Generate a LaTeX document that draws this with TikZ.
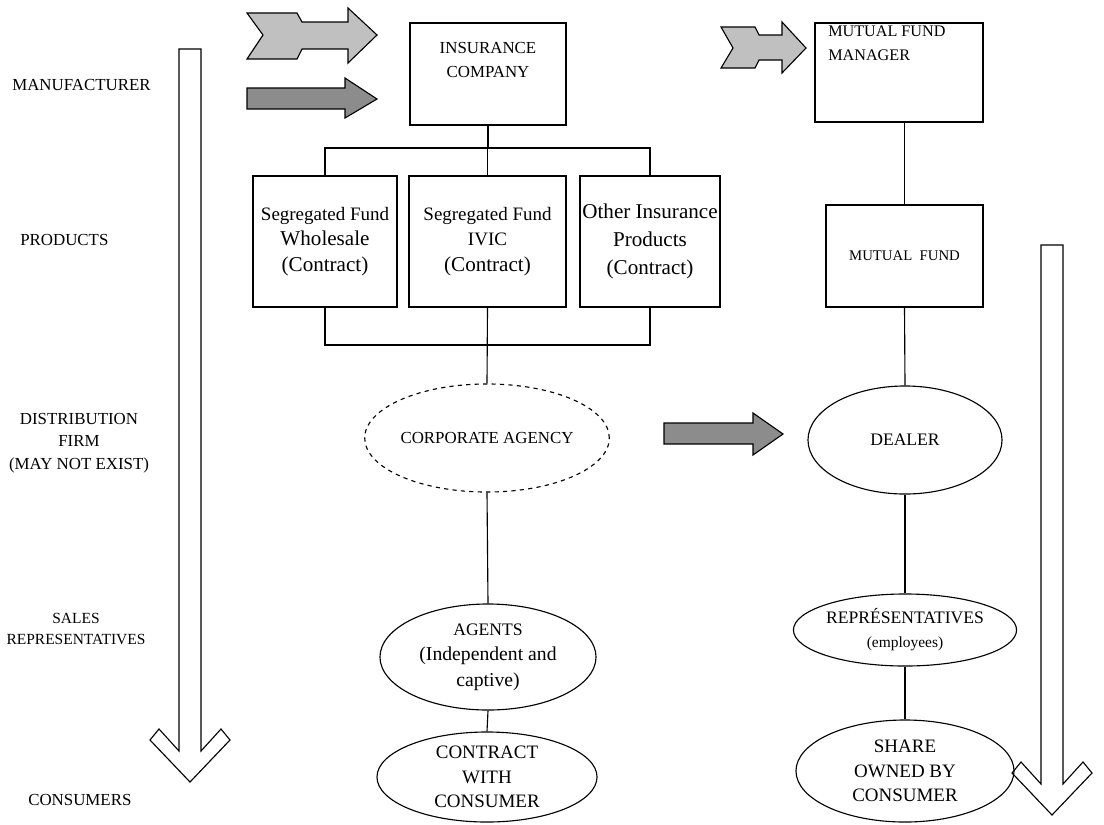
\documentclass[tikz,border=0pt]{standalone}
\usepackage{fontspec}
\setmainfont{Liberation Serif}
\usetikzlibrary{shapes.geometric,positioning}
\definecolor{lightarr}{HTML}{C0C0C0}
\definecolor{darkarr}{HTML}{8C8C8C}
\newcommand{\fsz}[2]{\fontsize{#1}{#2}\selectfont}
\tikzset{
  orgbox/.style  = {rectangle, draw=black, line width=0.8pt,
                    inner sep=0pt, align=center},
  orgoval/.style = {ellipse, draw=black, line width=0.8pt,
                    inner sep=0pt, align=center},
  lvltext/.style = {font=\fsz{12}{16}, align=center, inner sep=0pt},
  link/.style    = {draw=black, line width=0.8pt},
  blockarr/.style= {draw=black, line width=0.8pt, line join=miter,
                    fill=#1},
  blockarr/.default = white,
}

\begin{document}
\begin{tikzpicture}[x=0.025cm, y=-0.025cm]
  \useasboundingbox (0,0) rectangle (1104,824);

  %% ---- Level labels ----
  \node[lvltext, anchor=west] (lmanu)  at (12,85)  {MANUFACTURER};
  \node[lvltext, anchor=west] (lprod)  at (20,240) {PRODUCTS};
  \node[lvltext]              (ldist)  at (79,443) {DISTRIBUTION\\FIRM\\(MAY NOT EXIST)};
  \node[lvltext, font=\fsz{11}{15}]
                              (lsales) at (76,629) {SALES\\REPRESENTATIVES};
  \node[lvltext, anchor=west] (lcons)  at (28,800) {CONSUMERS};

  %% ---- Big down arrows ----
  \draw[blockarr] (179,49) -- (201,49) -- (201,751) -- (221,729)
        -- (230,740) -- (190,782) -- (150,740) -- (159,729)
        -- (179,751) -- cycle;
  \draw[blockarr] (1041,245) -- (1063,245) -- (1063,784) -- (1083,762)
        -- (1092,773) -- (1052,815) -- (1012,773) -- (1021,762)
        -- (1041,784) -- cycle;

  %% ---- Block arrows ----
  \draw[blockarr=lightarr] (247,13) -- (297,13) -- (302,22) -- (348,22)
        -- (348,8) -- (377,35) -- (348,63) -- (348,49) -- (302,49)
        -- (297,59) -- (247,59) -- (263,35) -- cycle;
  \draw[blockarr=darkarr] (247,88) -- (345,88) -- (345,78) -- (377,99)
        -- (345,118) -- (345,109) -- (247,109) -- cycle;
  \draw[blockarr=lightarr] (721,27) -- (755,27) -- (759,35) -- (782,35)
        -- (782,22) -- (806,48) -- (782,73) -- (782,60) -- (759,60)
        -- (755,68) -- (721,68) -- (733,48) -- cycle;
  \draw[blockarr=darkarr] (664,423) -- (753,423) -- (753,413) -- (783,434)
        -- (753,455) -- (753,444) -- (664,444) -- cycle;

  %% ---- Insurance side ----
  \node[orgbox, minimum width=3.9cm, minimum height=2.55cm]
        (ins) at (488,74) {};
  \node[font=\fsz{12}{17}, align=center, inner sep=0pt]
        (instxt) at (488,60) {INSURANCE\\COMPANY};
  \node[orgbox, minimum width=3.6cm, minimum height=3.275cm,
        font=\fsz{15}{18}]
        (sf1) at (325,241.5) {\fsz{13.5}{18}Segregated Fund\\Wholesale\\(Contract)};
  \node[orgbox, minimum width=3.925cm, minimum height=3.275cm,
        font=\fsz{13.5}{18}]
        (sf2) at (487.5,241.5) {Segregated Fund\\IVIC\\\fsz{15}{18}(Contract)};
  \node[orgbox, minimum width=3.5cm, minimum height=3.275cm,
        font=\fsz{15}{20}]
        (oth) at (650,241.5) {Other Insurance\\Products\\(Contract)};
  \node[orgoval, dashed, minimum width=4.75cm, minimum height=2.7cm,
        font=\fsz{12}{16}] (corp) at (487,438) {CORPORATE AGENCY};
  \node[orgoval, minimum width=5.4cm, minimum height=2.65cm,
        font=\fsz{14}{18}]
        (agents) at (488,657) {\fsz{12.5}{18}AGENTS\\(Independent and\\captive)};
  \node[orgoval, minimum width=5.5cm, minimum height=2.25cm,
        font=\fsz{13.5}{17.5}] (contract) at (487,777) {CONTRACT\\WITH\\CONSUMER};

  %% ---- Mutual fund side ----
  \node[orgbox, minimum width=4.2cm, minimum height=2.475cm]
        (mgr) at (899,72.5) {};
  \node[font=\fsz{11.5}{17}, align=left, inner sep=0pt, anchor=north west]
        (mgrtxt) at (828,26) {MUTUAL FUND\\MANAGER};
  \node[orgbox, minimum width=3.925cm, minimum height=2.55cm,
        font=\fsz{10.5}{14}] (mf) at (904.5,256) {MUTUAL~~FUND};
  \node[orgoval, minimum width=4.85cm, minimum height=2.7cm,
        font=\fsz{12.5}{16}] (dealer) at (905,440) {DEALER};
  \node[orgoval, minimum width=5.4cm, minimum height=1.8cm,
        font=\fsz{11}{17}]
        (reps) at (905,630) {\fsz{12.5}{17}REPRÉSENTATIVES\\(employees)};
  \node[orgoval, minimum width=5.45cm, minimum height=2.55cm,
        font=\fsz{13.5}{17.5}] (share) at (905,771) {SHARE\\OWNED BY\\CONSUMER};

  %% ---- Connectors: insurance ----
  \coordinate (bustop) at (488,148);
  \coordinate (busbot) at (487,345);
  \draw[link] (ins.south) -- (bustop);
  \draw[link] (sf1.north) -- (sf1.north |- bustop) -- (oth.north |- bustop)
        -- (oth.north);
  \draw[link] (sf2.north) -- (sf2.north |- bustop);
  \draw[link] (sf1.south) -- (sf1.south |- busbot) -- (oth.south |- busbot)
        -- (oth.south);
  \draw[link] (sf2.south) -- (corp.north);
  \draw[link] (corp.south) -- (agents.north);
  \draw[link] (agents.south) -- (contract.north);

  %% ---- Connectors: mutual fund ----
  \draw[link] (mf.north |- mgr.south) -- (mf.north);
  \draw[link] (mf.south) -- (dealer.north);
  \draw[link] (dealer.south) -- (reps.north);
  \draw[link] (reps.south) -- (share.north);

\end{tikzpicture}
\end{document}
